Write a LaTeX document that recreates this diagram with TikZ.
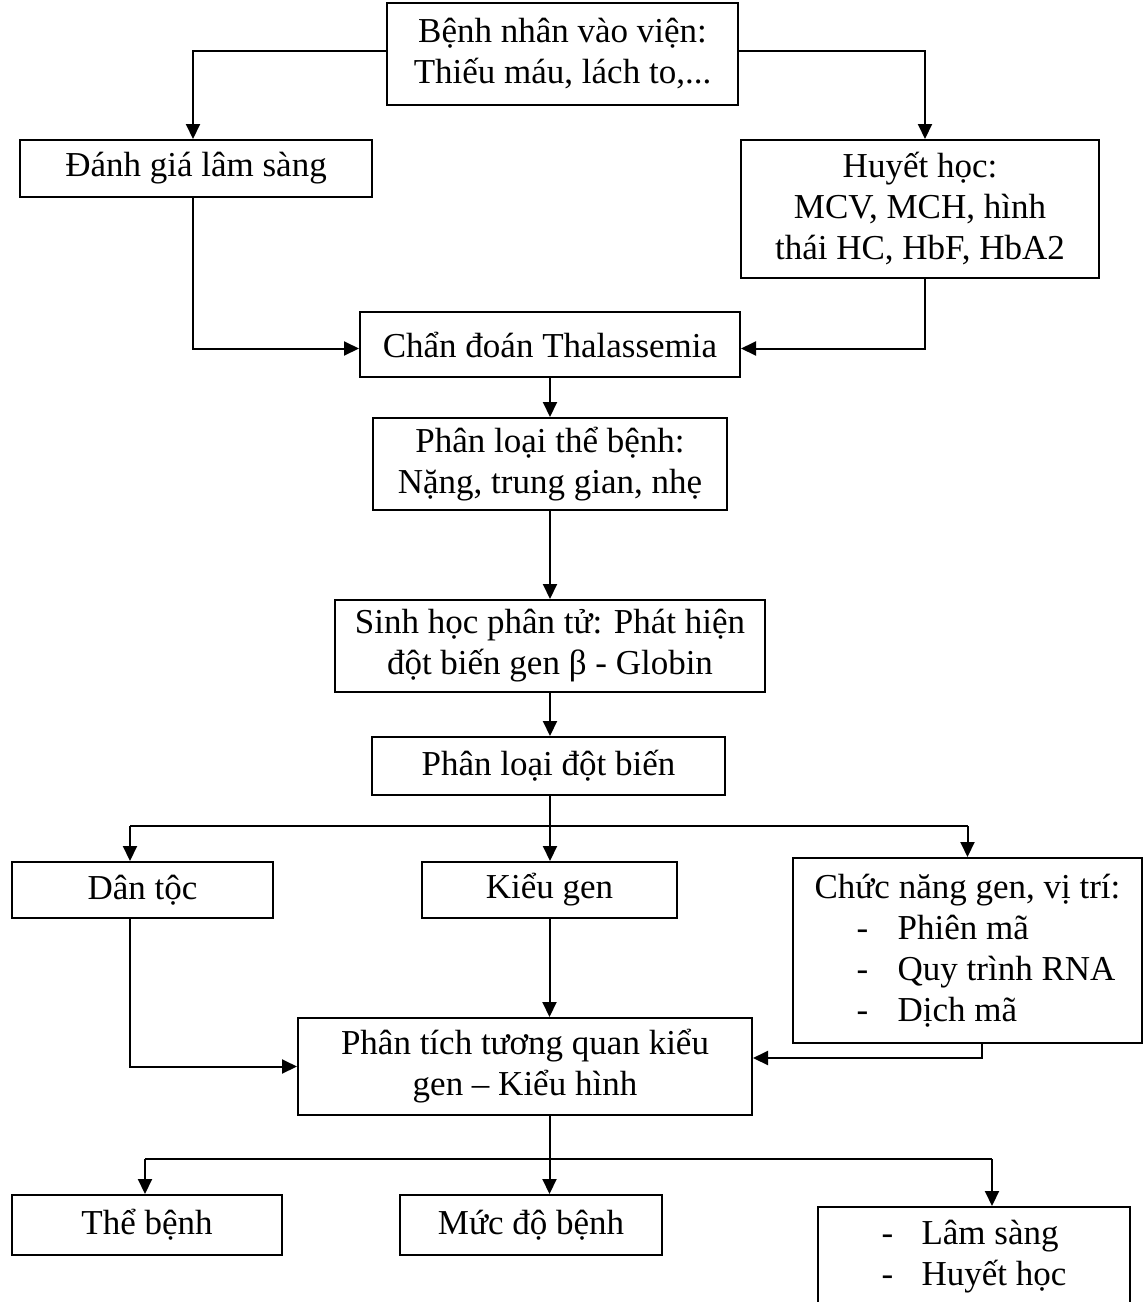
\documentclass[tikz,border=0pt]{standalone}
\usepackage{fontspec}
\setmainfont{Liberation Serif}
\usetikzlibrary{arrows.meta,calc}
\tikzset{
  box/.style={draw, line width=2pt, inner sep=0pt, align=center, font=\fontsize{35}{41}\selectfont},
  ln/.style={line width=2pt},
  arr/.style={line width=2pt, -{Triangle[length=15pt,width=14pt]}}
}
\begin{document}
\begin{tikzpicture}[x=1pt,y=-1pt]
\useasboundingbox (0,0) rectangle (1145,1302);
\clip (0,0) rectangle (1145,1302);
% nodes
\node[box, minimum width=351pt, minimum height=102pt] (top) at (562.5,54) {Bệnh nhân vào viện:\\Thiếu máu, lách to,...};
\node[box, minimum width=352pt, minimum height=57pt] (danhgia) at (196,168.5) {Đánh giá lâm sàng};
\node[box, minimum width=358pt, minimum height=138pt] (huyet) at (920,209) {Huyết học:\\MCV, MCH, hình\\thái HC, HbF, HbA2};
\node[box, minimum width=380pt, minimum height=65pt] (chandoan) at (550,344.5) {Chẩn đoán Thalassemia};
\node[box, minimum width=354pt, minimum height=92pt] (phanloai) at (550,464) {Phân loại thể bệnh:\\Nặng, trung gian, nhẹ};
\node[box, minimum width=430pt, minimum height=92pt] (sinhhoc) at (550,646) {Sinh học phân tử: Phát hiện\\đột biến gen β - Globin};
\node[box, minimum width=353pt, minimum height=58pt] (dotbien) at (548.5,766) {Phân loại đột biến};
\node[box, minimum width=261pt, minimum height=56pt] (dantoc) at (142.5,890) {Dân tộc};
\node[box, minimum width=255pt, minimum height=56pt] (kieugen) at (549.5,890) {Kiểu gen};
\node[box, align=left, minimum width=349pt, minimum height=185pt] (chucnang) at (967.5,950.5) {Chức năng gen, vị trí:\\\hspace*{42pt}\makebox[41pt][l]{-}Phiên mã\\\hspace*{42pt}\makebox[41pt][l]{-}Quy trình RNA\\\hspace*{42pt}\makebox[41pt][l]{-}Dịch mã};
\node[box, minimum width=454pt, minimum height=97pt] (phantich) at (525,1066.5) {Phân tích tương quan kiểu\\gen – Kiểu hình};
\node[box, minimum width=270pt, minimum height=60pt] (thebenh) at (147,1225) {Thể bệnh};
\node[box, minimum width=262pt, minimum height=60pt] (mucdo) at (531,1225) {Mức độ bệnh};
\node[box, align=left, minimum width=312pt, minimum height=100pt] (last) at (974,1257) {\makebox[40pt][l]{-}Lâm sàng\\\makebox[40pt][l]{-}Huyết học};
% connectors
\draw[arr] ([yshift=3pt]top.west) -| ([xshift=-3pt]danhgia.north);
\draw[arr] ([yshift=3pt]top.east) -| ([xshift=5pt]huyet.north);
\draw[arr] ([xshift=-3pt]danhgia.south) |- ([yshift=-4pt]chandoan.west);
\draw[arr] ([xshift=5pt]huyet.south) |- ([yshift=-4pt]chandoan.east);
\draw[arr] (chandoan.south) -- (chandoan.south |- phanloai.north);
\draw[arr] (phanloai.south) -- (phanloai.south |- sinhhoc.north);
\draw[arr] (sinhhoc.south) -- (sinhhoc.south |- dotbien.north);
\coordinate (s1) at ($(sinhhoc.south |- dotbien.south)+(0,30)$);
\draw[ln] (sinhhoc.south |- dotbien.south) -- (s1);
\draw[ln] ([xshift=-12.5pt]dantoc.north |- s1) -- (chucnang.north |- s1);
\draw[arr] ([xshift=-12.5pt]dantoc.north |- s1) -- ([xshift=-12.5pt]dantoc.north);
\draw[arr] (s1) -- (s1 |- kieugen.north);
\draw[arr] (chucnang.north |- s1) -- (chucnang.north);
\draw[arr] ([xshift=-12.5pt]dantoc.south) |- (phantich.west);
\draw[arr] (kieugen.south) -- (kieugen.south |- phantich.north);
\draw[arr] ([xshift=14.5pt]chucnang.south) |- ([yshift=8.5pt]phantich.east);
\coordinate (s2) at ($(kieugen.south |- phantich.south)+(0,43)$);
\draw[ln] (kieugen.south |- phantich.south) -- (s2);
\draw[ln] ([xshift=-2pt]thebenh.north |- s2) -- ([xshift=18pt]last.north |- s2);
\draw[arr] ([xshift=-2pt]thebenh.north |- s2) -- ([xshift=-2pt]thebenh.north);
\draw[arr] (s2) -- (s2 |- mucdo.north);
\draw[arr] ([xshift=18pt]last.north |- s2) -- ([xshift=18pt]last.north);
\end{tikzpicture}
\end{document}
